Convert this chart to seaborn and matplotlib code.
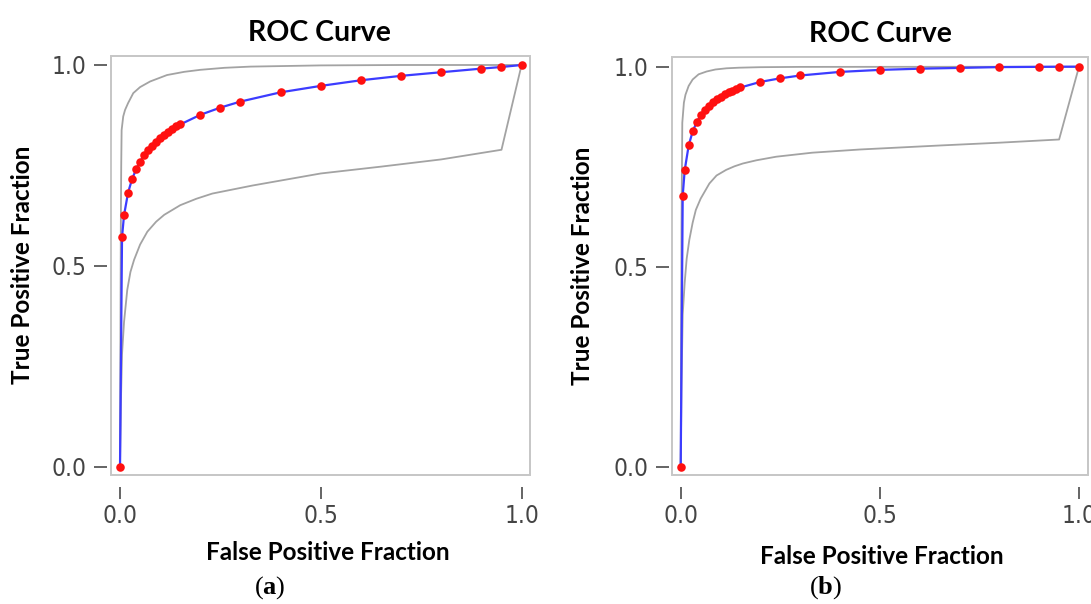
import numpy as np
import pandas as pd
import matplotlib
matplotlib.use("Agg")
import matplotlib.pyplot as plt
from matplotlib.patches import Rectangle
import seaborn as sns

# ---------------- data ----------------
fpf_points = [0, 0.005, 0.01, 0.02, 0.03, 0.04, 0.05, 0.06, 0.07, 0.08, 0.09, 0.10,
              0.11, 0.12, 0.13, 0.14, 0.15, 0.2, 0.25, 0.3, 0.4, 0.5, 0.6, 0.7, 0.8,
              0.9, 0.95, 1.0]
tpf_a = [0, 0.572, 0.626, 0.682, 0.716, 0.740, 0.759, 0.775, 0.788, 0.799, 0.809, 0.818,
         0.826, 0.834, 0.840, 0.847, 0.852, 0.876, 0.894, 0.909, 0.932, 0.948, 0.962,
         0.973, 0.982, 0.991, 0.995, 1.0]
tpf_b = [0, 0.677, 0.741, 0.803, 0.838, 0.861, 0.878, 0.891, 0.902, 0.911, 0.918, 0.925,
         0.931, 0.936, 0.940, 0.944, 0.948, 0.962, 0.971, 0.978, 0.987, 0.992, 0.995,
         0.997, 0.999, 0.9996, 0.9999, 1.0]

upper_a_x = [0, 0.002, 0.003, 0.004, 0.008, 0.0125, 0.02, 0.033, 0.05, 0.075, 0.117, 0.16, 0.2, 0.26, 0.325, 0.5, 0.7, 1.0]
upper_a_y = [0, 0.6, 0.75, 0.838, 0.872, 0.888, 0.905, 0.93, 0.945, 0.959, 0.975, 0.983, 0.988, 0.993, 0.996, 0.999, 1.0, 1.0]
lower_a_x = [0, 0.002, 0.005, 0.01, 0.018, 0.026, 0.035, 0.05, 0.068, 0.09, 0.11, 0.15, 0.19, 0.23, 0.33, 0.5, 0.65, 0.8, 0.95, 1.0]
lower_a_y = [0, 0.15, 0.28, 0.36, 0.44, 0.485, 0.515, 0.553, 0.585, 0.61, 0.627, 0.651, 0.667, 0.68, 0.70, 0.73, 0.747, 0.765, 0.789, 1.0]

upper_b_x = [0, 0.002, 0.004, 0.008, 0.012, 0.02, 0.03, 0.045, 0.065, 0.087, 0.115, 0.146, 0.2, 0.3, 1.0]
upper_b_y = [0, 0.6, 0.86, 0.91, 0.93, 0.952, 0.968, 0.981, 0.988, 0.993, 0.996, 0.9975, 0.9988, 0.9995, 1.0]
lower_b_x = [0, 0.002, 0.005, 0.01, 0.015, 0.0216, 0.03, 0.038, 0.05, 0.072, 0.09, 0.114, 0.135, 0.156, 0.19, 0.24, 0.33, 0.45, 0.65, 0.8, 0.95, 1.0]
lower_b_y = [0, 0.2, 0.38, 0.46, 0.52, 0.567, 0.61, 0.642, 0.67, 0.708, 0.728, 0.742, 0.751, 0.758, 0.766, 0.775, 0.785, 0.793, 0.803, 0.81, 0.818, 1.0]

tick_values = [0.0, 0.5, 1.0]
tick_labels = ["0.0", "0.5", "1.0"]
title_text = "ROC Curve"
xlabel_text = "False Positive Fraction"
ylabel_text = "True Positive Fraction"
panel_tags = ["a", "b"]

# ---------------- style ----------------
sns.set_theme(style="white")
plt.rcParams['font.family'] = ['Lato', 'DejaVu Sans']
plt.rcParams['mathtext.fontset'] = 'custom'
plt.rcParams['mathtext.rm'] = 'Liberation Serif'
plt.rcParams['mathtext.bf'] = 'Liberation Serif:bold'

BLUE = "#3c3cff"
RED = "#ff1010"
GRAY = "#a3a3a3"
BOX = "#c6c6c6"
TICKC = "#3a3a3a"

W, H = 1091, 604
fig = plt.figure(figsize=(W / 100, H / 100), dpi=100)

def px_axes(l, t, r, b):
    return fig.add_axes([l / W, 1 - b / H, (r - l) / W, (b - t) / H])

panels = [
    dict(rect=(110.5, 56, 530, 475), tpf=tpf_a, up=(upper_a_x, upper_a_y), lo=(lower_a_x, lower_a_y),
         xlim=(-0.0237, 1.021), ylim=(-0.0206, 1.0224), title_xy=(0.499, 1.055),
         xl=(0.518, -0.186), yl=(-0.2086, 0.501), tag_xy=(270, 588)),
    dict(rect=(672.3, 56.7, 1087.7, 475), tpf=tpf_b, up=(upper_b_x, upper_b_y), lo=(lower_b_x, lower_b_y),
         xlim=(-0.0211, 1.0218), ylim=(-0.0208, 1.025), title_xy=(0.5, 1.054),
         xl=(0.505, -0.194), yl=(-0.215, 0.501), tag_xy=(826, 588)),
]

for p, tag in zip(panels, panel_tags):
    ax = px_axes(*p['rect'])
    ax.set_facecolor("white")
    # confidence bands
    sns.lineplot(x=p['up'][0], y=p['up'][1], ax=ax, color=GRAY, lw=1.3, sort=False, estimator=None, zorder=2)
    sns.lineplot(x=p['lo'][0], y=p['lo'][1], ax=ax, color=GRAY, lw=1.3, sort=False, estimator=None, zorder=2)
    # fitted curve
    sns.lineplot(x=fpf_points, y=p['tpf'], ax=ax, color=BLUE, lw=1.6, sort=False, estimator=None, zorder=3)
    # operating points
    sns.scatterplot(x=fpf_points, y=p['tpf'], ax=ax, color=RED, s=38, linewidth=0, zorder=4)

    ax.set_xlim(*p['xlim'])
    ax.set_ylim(*p['ylim'])
    ax.set_xticks(tick_values)
    ax.set_xticklabels(tick_labels)
    ax.set_yticks(tick_values)
    ax.set_yticklabels(tick_labels)

    # spines invisible but positioned so ticks sit off the box
    for s in ax.spines.values():
        s.set_edgecolor('none')
    ax.spines['bottom'].set_position(('outward', 8.4))
    ax.spines['left'].set_position(('outward', 2.3))
    ax.add_patch(Rectangle((0, 0), 1, 1, transform=ax.transAxes, fill=False,
                           edgecolor=BOX, lw=1.4, zorder=5, clip_on=False))

    ax.tick_params(axis='x', which='major', direction='out', length=8.4, width=1.1,
                   color=TICKC, pad=4.0, bottom=True, top=False)
    ax.tick_params(axis='y', which='major', direction='out', length=9.5, width=1.1,
                   color=TICKC, pad=5.5, left=True, right=False)
    for lab in ax.get_xticklabels() + ax.get_yticklabels():
        lab.set_fontfamily('DejaVu Sans')
        lab.set_fontstretch('condensed')
        lab.set_fontsize(17.5)
        lab.set_color("#444444")

    ax.text(p['title_xy'][0], p['title_xy'][1], title_text, transform=ax.transAxes,
            ha='center', va='center', fontsize=20.5, fontweight='bold', color='black')
    ax.set_xlabel(xlabel_text, fontsize=17.5, fontweight='bold', color='black')
    ax.xaxis.set_label_coords(*p['xl'])
    ax.xaxis.label.set_verticalalignment('center')
    ax.set_ylabel(ylabel_text, fontsize=17.5, fontweight='bold', color='black')
    ax.yaxis.set_label_coords(*p['yl'])
    ax.yaxis.label.set_verticalalignment('center')

    fig.text(p['tag_xy'][0] / W, 1 - p['tag_xy'][1] / H, r"(${\bf %s}$)" % tag,
             family='Liberation Serif', fontsize=19, ha='center', va='center', color='black')

fig.savefig("out.png", dpi=100, facecolor="white")
